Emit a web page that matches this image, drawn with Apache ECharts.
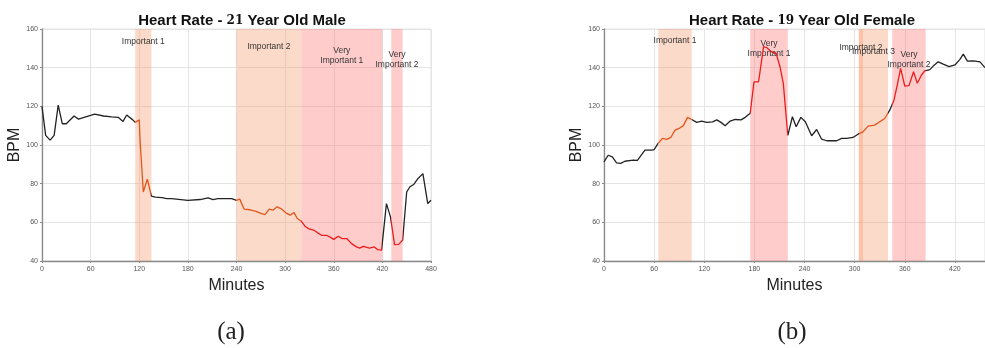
<!DOCTYPE html>
<html><head><meta charset="utf-8">
<script src="https://cdn.jsdelivr.net/npm/echarts@6/dist/echarts.min.js"></script>
<style>html,body{margin:0;padding:0;background:#fff}#c{width:985px;height:348px}</style>
</head><body><div id="c"></div>
<script>
// ---- data ----
const titlesText = ['Heart Rate - {n|21} Year Old Male', 'Heart Rate - {n|19} Year Old Female'];
const captions = ['(a)', '(b)'];
const xTicksMax = [480, 456];
const yMin = 40, yMax = 160;

const leftX = [0,4.5,10,15,20,25,30,39.5,45,54,65,76,86,94,100,104.5,112,115,120,121,125,130,135,140,148,154,156,160,180,195,205,211,217,234,240,244,249.5,256.7,264,271,275,280.5,285,290,296,301,306,311,315,319.6,324.5,328.6,335,339.7,345,351,355,360,365.6,370,376,382,388,392,396.5,404,410,414,419,420,425,430,435,440,445,450,454,459,464,470,476,480];
const leftY = [120,105,102.5,105,120.6,111,111,115,113.4,114.6,116,115,114.5,114.3,112.2,115.5,113,111.7,113,102.5,75.7,82.3,73.5,73,72.8,72.3,71.5,72.3,71.4,71.8,72.6,71.8,72.3,72.3,71.4,72,66.8,66.5,65.7,64.5,64,66.8,66.3,68,66.8,64.9,63.7,65,62,60.7,58,56.8,56,54.7,53.3,53.3,52.5,51.2,52.8,51.6,51.6,49,47.3,46.7,47.6,46.7,47.3,45.9,45.6,45.6,69.7,62.8,48.5,48.6,50.7,75.7,78.4,79.7,82.7,85.2,69.7,71.4];

const rightX = [0,5,10,15,20,25,35,40,49,57,60,65,70,75,80,85,91,95,100,105,111,117,123,130,135,140,145,151,157,164,169,175,179.5,185,191,195,200,206,210.6,214.6,220,225.5,230,235.6,241,248.5,254.5,260.5,266.5,278.5,284.5,290.5,298,304,310,316,324,330,336,342,347,351,355,360,365,370.5,375,380,384,390,394,400,406,413,420,426,430,435,442,450,456];
const rightY = [91.3,94.7,93.9,90.8,90.5,91.6,92.2,92,97.3,97.3,97.6,101,103.4,102.9,103.9,107.7,108.9,110,114.3,113.2,111.7,112.4,111.7,112,113,111.7,110,112.4,113.2,113,114.3,116.4,132.7,132.7,150.9,150.3,148.3,147.4,140.5,131.9,105,114.6,109.4,114.3,112,104.8,108,103,102.2,102.2,103.4,103.4,103.9,105.6,106.8,109.8,110.3,112,113.7,118,123.2,131,139.6,130.5,130.7,137.9,131.9,136.2,138.4,139,140.8,143,141.8,140.5,141.4,144.3,147,143.4,143.5,143,140];

const leftRegionNames = ['Important 1', 'Important 2', 'Very\nImportant 1', 'Very\nImportant 2'];
const leftRegionStart = [115, 240, 320, 431];
const leftRegionEnd = [135, 320, 420, 445];
const leftRegionLevel = ['imp', 'imp', 'very', 'very'];

const rightRegionNames = ['Important 1', 'Very\nImportant 1', 'Important 2', 'Important 3', 'Very\nImportant 2'];
const rightRegionStart = [65, 175, 305, 305, 345];
const rightRegionEnd = [105, 220, 310, 340, 385];
const rightRegionLevel = ['imp', 'very', 'imp', 'imp', 'very'];

// ---- styles ----
const leftLabelOffsets = [8, 13, 17, 21];
const rightLabelOffsets = [7, 10, 14, 18, 21];
const areaColor = {imp: 'rgba(245,150,100,0.35)', very: 'rgba(255,120,120,0.38)'};
const lineColor = {imp: '#e2561c', very: '#ea1c1c'};

function pairs(xs, ys){ return xs.map((x,i)=>[x, ys[i]]); }
function areas(names, s, e, lv, offs){
  return names.map((n,i)=>[{xAxis: s[i], name: n, itemStyle:{color: areaColor[lv[i]]},
    label:{offset:[0, offs[i]]}}, {xAxis: e[i]}]);
}
function pieces(s, e, lv){
  return s.map((v,i)=>({gte: v, lte: e[i], color: lineColor[lv[i]]}));
}

const grids = [
  {left: 42, top: 29, width: 389, height: 232, show: true, borderColor: '#e2e2e2', borderWidth: 1},
  {left: 604, top: 29, width: 381, height: 232, show: true, borderColor: '#e2e2e2', borderWidth: 1}
];
const tickFont = {fontSize: 7, color: '#555', fontFamily: 'Liberation Sans'};
function xAx(i){
  return {gridIndex: i, type: 'value', min: 0, max: xTicksMax[i], interval: 60,
    name: 'Minutes', nameLocation: 'middle', nameGap: 15,
    nameTextStyle: {fontSize: 16, color: '#222', fontFamily: 'Liberation Sans'},
    axisLine: {show: true, onZero: false, lineStyle: {color: '#8a8a8a', width: 1.3}},
    axisTick: {show: true, length: 2, lineStyle: {color: '#8a8a8a'}},
    axisLabel: Object.assign({margin: 5, showMaxLabel: i === 0}, tickFont),
    splitLine: {show: true, lineStyle: {color: '#e4e4e4', width: 1}}};
}
function yAx(i){
  return {gridIndex: i, type: 'value', min: yMin, max: yMax, interval: 20,
    name: 'BPM', nameLocation: 'middle', nameGap: 17,
    nameTextStyle: {fontSize: 16, color: '#222', fontFamily: 'Liberation Sans'},
    axisLine: {show: true, onZero: false, lineStyle: {color: '#8a8a8a', width: 1.3}},
    axisTick: {show: true, length: 2, lineStyle: {color: '#8a8a8a'}},
    axisLabel: Object.assign({margin: 4}, tickFont),
    splitLine: {show: true, lineStyle: {color: '#e4e4e4', width: 1}}};
}
const areaLabel = {show: true, position: 'insideTop', distance: 0, fontSize: 8.5, lineHeight: 10,
  color: '#333', fontFamily: 'Liberation Sans'};

const titleStyle = {fontSize: 15, fontWeight: 'bold', color: '#111', fontFamily: 'Liberation Sans',
  rich: {n: {fontSize: 12, fontWeight: 'bold', color: '#111', fontFamily: 'DejaVu Serif'}}};

const option = {
  animation: false,
  backgroundColor: '#fff',
  title: [
    {text: titlesText[0], left: 237, top: 8, textAlign: 'center', textStyle: titleStyle},
    {text: titlesText[1], left: 797, top: 8, textAlign: 'center', textStyle: titleStyle},
    {text: captions[0], left: 226, top: 315, textAlign: 'center',
      textStyle: {fontSize: 25, fontWeight: 'normal', color: '#222', fontFamily: 'Liberation Serif'}},
    {text: captions[1], left: 787, top: 315, textAlign: 'center',
      textStyle: {fontSize: 25, fontWeight: 'normal', color: '#222', fontFamily: 'Liberation Serif'}}
  ],
  grid: grids,
  xAxis: [xAx(0), xAx(1)],
  yAxis: [yAx(0), yAx(1)],
  visualMap: [
    {type: 'piecewise', show: false, seriesIndex: 0, dimension: 0,
      pieces: pieces(leftRegionStart, leftRegionEnd, leftRegionLevel), outOfRange: {color: '#222'}},
    {type: 'piecewise', show: false, seriesIndex: 1, dimension: 0,
      pieces: pieces(rightRegionStart, rightRegionEnd, rightRegionLevel), outOfRange: {color: '#222'}}
  ],
  series: [
    {type: 'line', xAxisIndex: 0, yAxisIndex: 0, data: pairs(leftX, leftY), showSymbol: false,
      lineStyle: {width: 1.3}, z: 5,
      markArea: {silent: true, label: areaLabel, data: areas(leftRegionNames, leftRegionStart, leftRegionEnd, leftRegionLevel, leftLabelOffsets)}},
    {type: 'line', xAxisIndex: 1, yAxisIndex: 1, data: pairs(rightX, rightY), showSymbol: false,
      lineStyle: {width: 1.3}, z: 5,
      markArea: {silent: true, label: areaLabel, data: areas(rightRegionNames, rightRegionStart, rightRegionEnd, rightRegionLevel, rightLabelOffsets)}}
  ]
};
const chart = echarts.init(document.getElementById('c'), null, {renderer: 'canvas'});
chart.setOption(option);
</script>
</body></html>
